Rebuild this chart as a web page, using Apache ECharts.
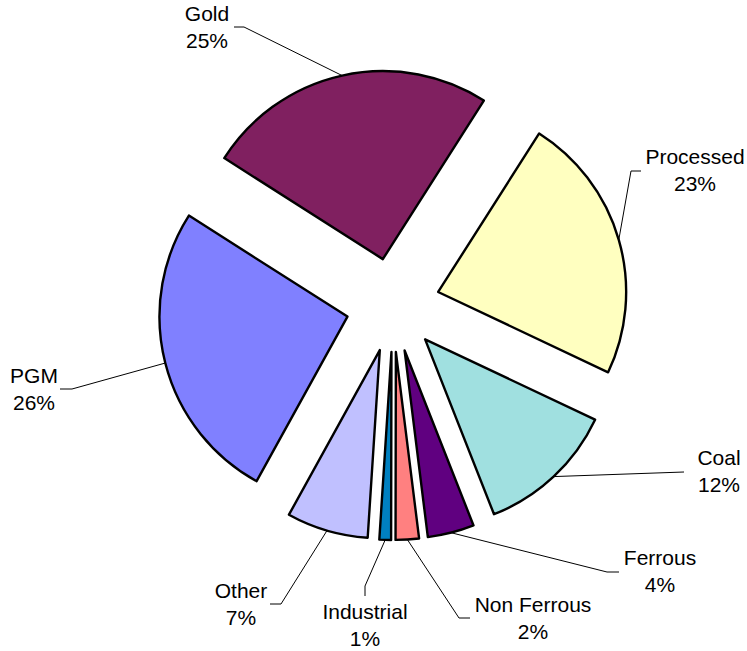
<!DOCTYPE html>
<html>
<head>
<meta charset="utf-8">
<script src="https://cdn.jsdelivr.net/npm/echarts@6/dist/echarts.min.js"></script>
<style>
  html, body { margin: 0; padding: 0; background: #ffffff; }
  #chart { width: 747px; height: 651px; }
</style>
</head>
<body>
<div id="chart"></div>
<script>
// Share of output by sector (%)
const categories = ['Gold', 'Processed', 'Coal', 'Ferrous', 'Non Ferrous', 'Industrial', 'Other', 'PGM'];
const shares = [25, 23, 12, 4, 2, 1, 7, 26];
const sliceColors = ['#802060', '#FFFFC0', '#A0E0E0', '#600080', '#FF8080', '#0080C0', '#C0C0FF', '#8080FF'];

// Pie geometry: centre, radius, how far each slice is pulled out, first slice start angle
const CX = 393, CY = 305, RADIUS = 188, EXPLODE = 47, START_ANGLE = 147.5;

// Label block centres and leader-line elbow / end points
const labelSpots = [
  { at: [207, 27],  guide: [[244, 27], [234, 27]] },
  { at: [695, 170], guide: [[631, 171], [641, 171]] },
  { at: [719, 471], guide: [[684, 472]] },
  { at: [660, 571], guide: [[607, 572], [619, 572]] },
  { at: [533, 618], guide: [[459, 618], [470, 618]] },
  { at: [365, 625], guide: [[365, 586], [365, 596]] },
  { at: [241, 604], guide: [[281, 604], [270, 604]] },
  { at: [34, 389],  guide: [[72, 389], [60, 389]] }
];

const total = shares.reduce((a, b) => a + b, 0);
let acc = 0;
const midAngles = shares.map(v => {
  const m = (START_ANGLE - (acc + v / 2) / total * 360) * Math.PI / 180;
  acc += v;
  return m;
});

const centres = midAngles.map(a => [CX + EXPLODE * Math.cos(a), CY - EXPLODE * Math.sin(a)]);

// One pie per slice so that each slice can sit on its own exploded centre
const series = categories.map((cat, i) => ({
  type: 'pie',
  silent: true,
  animation: false,
  startAngle: START_ANGLE,
  clockwise: true,
  radius: RADIUS,
  center: centres[i],
  avoidLabelOverlap: false,
  emphasis: { disabled: true },
  label: {
    position: 'outside',
    formatter: p => p.name + '\n' + p.value + '%',
    fontFamily: '"Liberation Sans", Arial, sans-serif',
    fontSize: 21,
    lineHeight: 27,
    color: '#000000'
  },
  labelLine: { show: true, smooth: false, lineStyle: { color: '#000000', width: 1 } },
  labelLayout: p => {
    const spot = labelSpots[p.dataIndex];
    const a = midAngles[p.dataIndex];
    const c = centres[p.dataIndex];
    const arcMid = [c[0] + RADIUS * Math.cos(a), c[1] - RADIUS * Math.sin(a)];
    return {
      x: spot.at[0],
      y: spot.at[1],
      align: 'center',
      verticalAlign: 'middle',
      labelLinePoints: [arcMid].concat(spot.guide)
    };
  },
  data: categories.map((name, j) => ({
    name: name,
    value: shares[j],
    itemStyle: j === i
      ? { color: sliceColors[j], borderColor: '#000000', borderWidth: 2.4 }
      : { color: 'rgba(0,0,0,0)', borderWidth: 0 },
    label: { show: j === i },
    labelLine: { show: j === i }
  }))
}));

const chart = echarts.init(document.getElementById('chart'), null, { renderer: 'svg' });
chart.setOption({
  backgroundColor: '#ffffff',
  animation: false,
  series: series
});
</script>
</body>
</html>
